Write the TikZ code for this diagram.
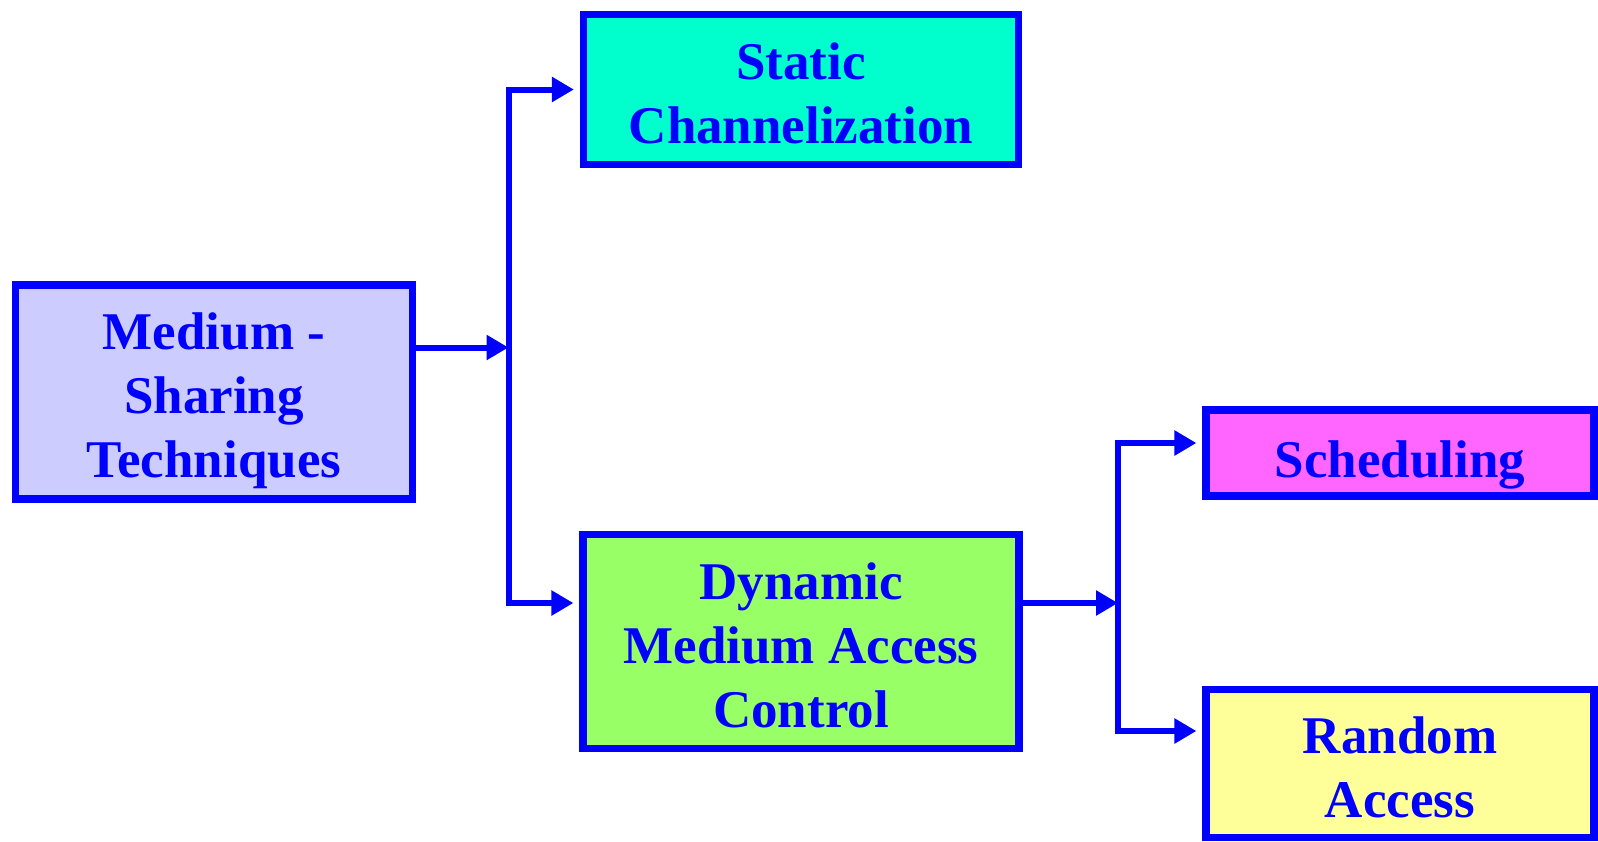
\documentclass[tikz,border=0pt]{standalone}
\usepackage{fontspec}
\setmainfont{Liberation Serif}
\usetikzlibrary{arrows.meta}

\definecolor{lavender}{RGB}{204,204,255}
\definecolor{aqua}{RGB}{0,255,204}
\definecolor{lime}{RGB}{153,255,102}
\definecolor{pink}{RGB}{255,102,255}
\definecolor{paleyellow}{RGB}{255,255,153}

% extra room above the first line, pushes the text down a bit
\newcommand{\topgap}[1][22pt]{\rule{0pt}{#1}}

\tikzset{
  box/.style={draw=blue, line width=3.6pt, text=blue, align=center,
    font=\fontsize{26.5}{32}\selectfont\bfseries, inner sep=0pt},
  link/.style={draw=blue, line width=3pt},
  arrow/.style={link, -{Triangle[length=11pt,width=12pt]}, shorten >=3pt}
}

\begin{document}
\begin{tikzpicture}[x=0.5pt, y=-0.5pt]
\useasboundingbox (0,0) rectangle (1598,841);

% Boxes
\node[box, fill=lavender, minimum width=198.5pt, minimum height=107pt] (med) at (214,392) {\topgap[27pt]Medium -\\Sharing\\Techniques};
\node[box, fill=aqua, minimum width=217.5pt, minimum height=75pt] (stat) at (801,89.5) {\topgap Static\\Channelization};
\node[box, fill=lime, minimum width=218pt, minimum height=107pt] (dyn) at (801,641.5) {\topgap Dynamic\\Medium Access\\Control};
\node[box, fill=pink, minimum width=194pt, minimum height=43pt] (sched) at (1400,453) {\topgap[30pt]Scheduling};
\node[box, fill=paleyellow, minimum width=194pt, minimum height=74pt] (rand) at (1400,763.5) {\topgap Random\\Access};

% Forks
\coordinate (fork1) at (508.5,347.5);
\coordinate (fork2) at (1118,603);
\coordinate (dynrow) at (0,603);
\coordinate (schedrow) at (0,443);
\coordinate (randrow) at (0,731);

% First split
\draw[arrow, shorten >=0pt] (med.east |- fork1) -- (fork1);
\draw[arrow] (fork1) |- (stat.west);
\draw[arrow] (fork1) |- (dyn.west |- dynrow);

% Second split
\draw[arrow, shorten >=0pt] (dyn.east |- fork2) -- (fork2);
\draw[arrow] (fork2) |- (sched.west |- schedrow);
\draw[arrow] (fork2) |- (rand.west |- randrow);

\end{tikzpicture}
\end{document}
